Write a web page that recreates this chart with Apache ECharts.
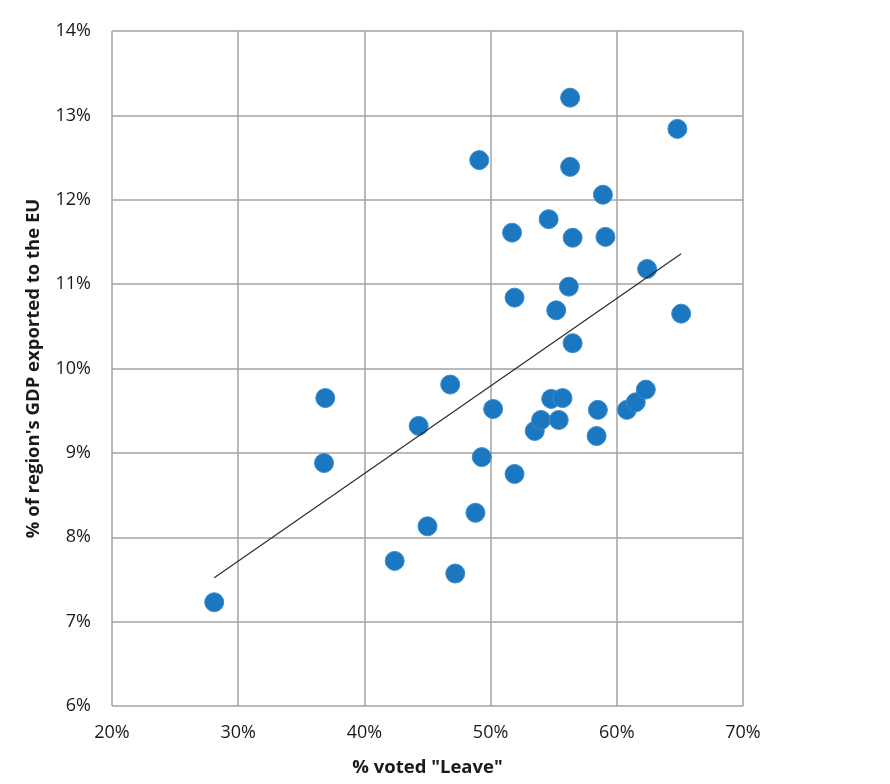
<!DOCTYPE html>
<html>
<head>
<meta charset="utf-8">
<script src="https://cdn.jsdelivr.net/npm/echarts@6/dist/echarts.min.js"></script>
<style>
    html, body { margin: 0; padding: 0; background: #fff; }
    #chart { width: 890px; height: 784px; }
</style>
</head>
<body>
<div id="chart"></div>
<script>
    // % voted Leave per region
    var leaveShare = [28.1, 36.9, 36.8, 42.4, 44.3, 45.0, 46.8, 47.2, 48.8, 49.1, 49.3, 50.2, 51.9, 51.7, 51.9,
        53.5, 54.0, 54.6, 54.8, 55.2, 55.4, 55.7, 56.2, 56.3, 56.3, 56.5, 56.5, 58.4, 58.5, 58.9, 59.1,
        60.8, 61.5, 62.3, 62.4, 64.8, 65.1];
    // % of region's GDP exported to the EU
    var gdpExported = [7.23, 9.65, 8.88, 7.72, 9.32, 8.13, 9.81, 7.57, 8.29, 12.47, 8.95, 9.52, 8.75, 11.61, 10.84,
        9.26, 9.39, 11.77, 9.64, 10.69, 9.39, 9.65, 10.97, 13.21, 12.39, 11.55, 10.30, 9.20, 9.51, 12.06, 11.56,
        9.51, 9.60, 9.75, 11.18, 12.84, 10.65];
    // trend line end points
    var trendX = [28.1, 65.1];
    var trendY = [7.52, 11.36];

    var points = leaveShare.map(function (x, i) { return [x, gdpExported[i]]; });
    var trend = trendX.map(function (x, i) { return [x, trendY[i]]; });

    var font = '"Open Sans", "DejaVu Sans", sans-serif';
    var chart = echarts.init(document.getElementById('chart'));
    chart.setOption({
        animation: false,
        grid: { left: 112, right: 147, top: 31, bottom: 78 },
        xAxis: {
            type: 'value',
            min: 20, max: 70, interval: 10,
            name: '% voted "Leave"',
            nameLocation: 'middle',
            nameGap: 52,
            nameTextStyle: { fontFamily: font, fontSize: 18.5, fontWeight: 'bold', color: '#1a1a1a' },
            axisLine: { show: false },
            axisTick: { show: false },
            axisLabel: { formatter: '{value}%', margin: 18, fontFamily: font, fontSize: 18, color: '#1a1a1a' },
            splitLine: { show: true, lineStyle: { color: '#a3a3a3', width: 1.5 } }
        },
        yAxis: {
            type: 'value',
            min: 6, max: 14, interval: 1,
            name: "% of region's GDP exported to the EU",
            nameLocation: 'middle',
            nameGap: 69,
            nameTextStyle: { fontFamily: font, fontSize: 18.5, fontWeight: 'bold', color: '#1a1a1a' },
            axisLine: { show: false },
            axisTick: { show: false },
            axisLabel: { formatter: '{value}%', margin: 21, fontFamily: font, fontSize: 18, color: '#1a1a1a' },
            splitLine: { show: true, lineStyle: { color: '#a3a3a3', width: 1.5 } }
        },
        series: [
            {
                type: 'scatter',
                data: points,
                symbolSize: 19,
                itemStyle: { color: '#1a77c0', borderColor: '#3a8ccd', borderWidth: 1, opacity: 1 },
                z: 3
            },
            {
                type: 'line',
                data: trend,
                symbol: 'none',
                lineStyle: { color: '#2a2a2a', width: 1.2 },
                z: 4
            }
        ]
    });
</script>
</body>
</html>
